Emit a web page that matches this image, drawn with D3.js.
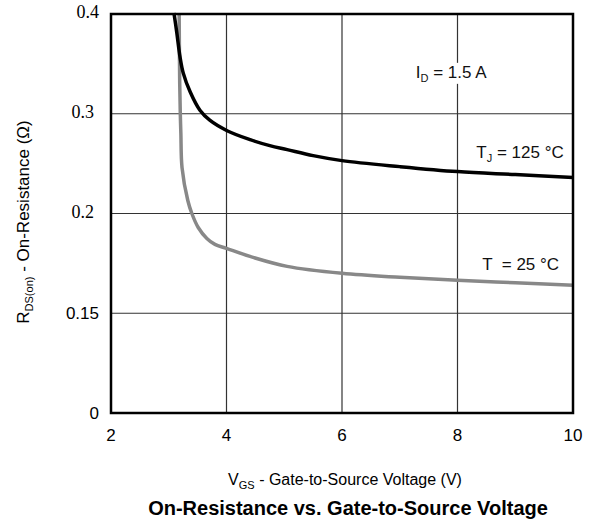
<!DOCTYPE html>
<meta charset="utf-8">
<script src="https://d3js.org/d3.v7.min.js"></script>
<style>
body { margin: 0; background: #fff; }
text { font-family: "Liberation Sans", Helvetica, Arial, sans-serif; }
</style>
<div id="chart"></div>
<script>
// data (V_GS in volts, R in ohms on the printed axis)
const vgs125 = [3.09, 3.14, 3.195, 3.25, 3.37, 3.54, 3.71, 4.01, 4.41, 4.75, 5.05, 5.5, 6.0, 7.0, 8.0, 9.0, 10.0];
const r125   = [0.401, 0.381, 0.357, 0.341, 0.322, 0.3035, 0.2935, 0.283, 0.274, 0.268, 0.264, 0.258, 0.253, 0.247, 0.242, 0.239, 0.236];
const vgs25  = [3.18, 3.19, 3.20, 3.21, 3.23, 3.33, 3.40, 3.51, 3.66, 3.80, 4.0, 4.46, 5.05, 6.0, 7.0, 8.0, 9.0, 10.0];
const r25    = [0.400, 0.330, 0.300, 0.280, 0.246, 0.213, 0.200, 0.186, 0.175, 0.169, 0.165, 0.156, 0.147, 0.140, 0.136, 0.133, 0.1305, 0.128];
const xTicks = [2, 4, 6, 8, 10];
const yTicks = [0, 0.1, 0.2, 0.3, 0.4];
const yTickLabels = ["0", "0.15", "0.2", "0.3", "0.4"];
const yTickSerif = [false, false, true, true, true];

const W = 593, H = 529;
const margin = {top: 14, left: 111};
const width = 573 - margin.left, height = 413 - margin.top;

const svg = d3.select("#chart").append("svg")
    .attr("width", W).attr("height", H);
const g = svg.append("g")
    .attr("transform", `translate(${margin.left},${margin.top})`);

const x = d3.scaleLinear().domain([2, 10]).range([0, width]);
const y = d3.scaleLinear().domain([0, 0.4]).range([height, 0]);

// grid
g.selectAll(".vgrid").data(xTicks.slice(1, -1)).join("line")
    .attr("x1", d => x(d)).attr("x2", d => x(d))
    .attr("y1", 0).attr("y2", height)
    .attr("stroke", "#333").attr("stroke-width", 1.2);
g.selectAll(".hgrid").data(yTicks.slice(1, -1)).join("line")
    .attr("x1", 0).attr("x2", width)
    .attr("y1", d => y(d)).attr("y2", d => y(d))
    .attr("stroke", "#333").attr("stroke-width", 1.2);

// annotations with white background (they break the grid)
function label(txt, sub, rest, px, py, anchor) {
  const t = g.append("text")
      .attr("x", px).attr("y", py)
      .attr("text-anchor", anchor)
      .style("white-space", "pre")
      .style("font-size", "17px").attr("fill", "#111");
  t.append("tspan").text(txt);
  if (sub) t.append("tspan").attr("dy", 4).style("font-size", "11px").text(sub);
  t.append("tspan").attr("dy", sub ? -4 : 0).text(rest);
  const bb = t.node().getBBox();
  g.insert("rect", "text")
      .attr("x", bb.x - 2).attr("y", bb.y).attr("width", bb.width + 4).attr("height", bb.height)
      .attr("fill", "#fff");
}
label("I", "D", " = 1.5 A", x(7.89), y(0.336), "middle");
label("T", "J", " = 125 °C", x(9.84), y(0.256), "end");
label("T  = 25 °C", "", "", x(9.76), y(0.1437), "end");

// curves
const line = d3.line()
    .x(d => x(d[0])).y(d => y(d[1]))
    .curve(d3.curveCatmullRom.alpha(0.5));
g.append("path")
    .datum(d3.zip(vgs25, r25))
    .attr("d", line)
    .attr("fill", "none").attr("stroke", "#888").attr("stroke-width", 3.5);
g.append("path")
    .datum(d3.zip(vgs125, r125))
    .attr("d", line)
    .attr("fill", "none").attr("stroke", "#000").attr("stroke-width", 3.5);

// frame
g.append("rect")
    .attr("x", 0).attr("y", 0).attr("width", width).attr("height", height)
    .attr("fill", "none").attr("stroke", "#000").attr("stroke-width", 2.5);

// x tick labels
g.selectAll(".xt").data(xTicks).join("text")
    .attr("x", d => x(d)).attr("y", height + 28)
    .attr("text-anchor", "middle")
    .style("font-size", "17px")
    .text(d => d);

// y tick labels
g.selectAll(".yt").data(yTicks).join("text")
    .attr("x", (d, i) => yTickSerif[i] && i < 4 ? -17 : -12)
    .attr("y", (d, i) => y(d) + (yTickSerif[i] ? 4 : 6))
    .attr("text-anchor", "end")
    .style("font-family", (d, i) => yTickSerif[i] ? "'Liberation Serif', 'DejaVu Serif', serif" : null)
    .style("font-size", (d, i) => yTickSerif[i] ? "18px" : "17px")
    .text((d, i) => yTickLabels[i]);

// axis titles
const xt = svg.append("text")
    .attr("x", 345).attr("y", 485)
    .attr("text-anchor", "middle")
    .style("font-size", "16px");
xt.append("tspan").text("V");
xt.append("tspan").attr("dy", 4).style("font-size", "11px").text("GS");
xt.append("tspan").attr("dy", -4).text(" - Gate-to-Source Voltage (V)");

const yt = svg.append("text")
    .attr("transform", "translate(29,222) rotate(-90)")
    .attr("text-anchor", "middle")
    .style("font-size", "17px");
yt.append("tspan").text("R");
yt.append("tspan").attr("dy", 4).style("font-size", "11px").text("DS(on)");
yt.append("tspan").attr("dy", -4).text(" - On-Resistance (Ω)");

svg.append("text")
    .attr("x", 348).attr("y", 515)
    .attr("text-anchor", "middle")
    .style("font-size", "20px").style("font-weight", "bold")
    .text("On-Resistance vs. Gate-to-Source Voltage");
</script>
